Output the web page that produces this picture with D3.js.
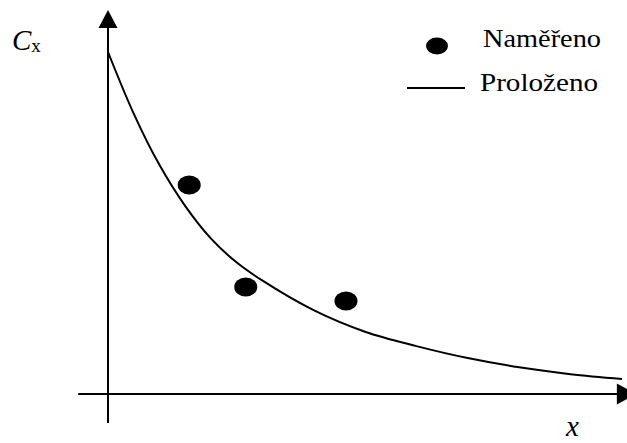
<!DOCTYPE html>
<html>
<head>
<meta charset="utf-8">
<script src="https://cdn.jsdelivr.net/npm/d3@7"></script>
<style>
  html, body { margin: 0; padding: 0; background: #fff; }
  svg { display: block; }
</style>
</head>
<body>
<svg id="chart" width="627" height="443"></svg>
<script>
// Fitted decay curve (Proloženo)
const fitX = [0, 0.5, 1, 1.5, 2, 2.5, 3, 4, 5, 6, 7, 8, 9, 10];
const fitY = [10, 8.2, 6.7, 5.5, 4.55, 3.85, 3.32, 2.45, 1.82, 1.40, 1.05, 0.78, 0.58, 0.44];

// Measured points (Naměřeno)
const measuredX = [1.58, 2.68, 4.63];
const measuredY = [6.11, 3.13, 2.72];

const legendLabels = ["Naměřeno", "Proloženo"];
const yAxisLabel = "C";
const yAxisSub = "x";
const xAxisLabel = "x";

const serif = '"Liberation Serif", Tinos, "Times New Roman", Times, "DejaVu Serif", serif';

const svg = d3.select("#chart");

const x = d3.scaleLinear().domain([0, 10]).range([108, 622]);
const y = d3.scaleLinear().domain([0, 10]).range([394, 52]);

// Axes with arrowheads
const axisG = svg.append("g").attr("stroke", "#000").attr("stroke-width", 2);
axisG.append("line")
  .attr("x1", x(-0.58)).attr("x2", x(9.95))
  .attr("y1", y(0)).attr("y2", y(0));
axisG.append("line")
  .attr("x1", x(0)).attr("x2", x(0))
  .attr("y1", y(-0.85)).attr("y2", y(10.7));

svg.append("path")
  .attr("d", `M${x(0)},${y(11.23)} L${x(0) - 9.5},${y(10.7)} L${x(0) + 9.5},${y(10.7)} Z`)
  .attr("fill", "#000");
svg.append("path")
  .attr("d", `M${x(10.27)},${y(0)} L${x(9.9)},${y(0) - 10.5} L${x(9.9)},${y(0) + 10.5} Z`)
  .attr("fill", "#000");

// Fitted curve
const fitData = fitX.map((d, i) => [d, fitY[i]]);
svg.append("path")
  .datum(fitData)
  .attr("fill", "none")
  .attr("stroke", "#000")
  .attr("stroke-width", 2)
  .attr("d", d3.line().x(d => x(d[0])).y(d => y(d[1])).curve(d3.curveCatmullRom.alpha(0.5)));

// Measured points
svg.selectAll("ellipse.pt")
  .data(measuredX.map((d, i) => [d, measuredY[i]]))
  .join("ellipse")
  .attr("class", "pt")
  .attr("cx", d => x(d[0]))
  .attr("cy", d => y(d[1]))
  .attr("rx", 11.5)
  .attr("ry", 9.5)
  .attr("fill", "#000");

// Legend
svg.append("ellipse")
  .attr("cx", 437).attr("cy", 46).attr("rx", 11).attr("ry", 8.5)
  .attr("fill", "#000");
svg.append("text")
  .attr("x", 483).attr("y", 47)
  .attr("font-family", serif)
  .attr("font-size", 25)
  .attr("textLength", 118).attr("lengthAdjust", "spacingAndGlyphs")
  .text(legendLabels[0]);
svg.append("line")
  .attr("x1", 407).attr("x2", 465).attr("y1", 88).attr("y2", 88)
  .attr("stroke", "#000").attr("stroke-width", 2);
svg.append("text")
  .attr("x", 480).attr("y", 91)
  .attr("font-family", serif)
  .attr("font-size", 25)
  .attr("textLength", 118).attr("lengthAdjust", "spacingAndGlyphs")
  .text(legendLabels[1]);

// Axis titles
const yt = svg.append("text").attr("x", 12).attr("y", 50).attr("font-family", serif);
yt.append("tspan").attr("font-size", 29).attr("font-style", "italic").text(yAxisLabel);
yt.append("tspan").attr("font-size", 19).attr("dy", 2).text(yAxisSub);

svg.append("text")
  .attr("x", 566).attr("y", 436)
  .attr("font-family", serif)
  .attr("font-size", 29)
  .attr("font-style", "italic")
  .text(xAxisLabel);
</script>
</body>
</html>
